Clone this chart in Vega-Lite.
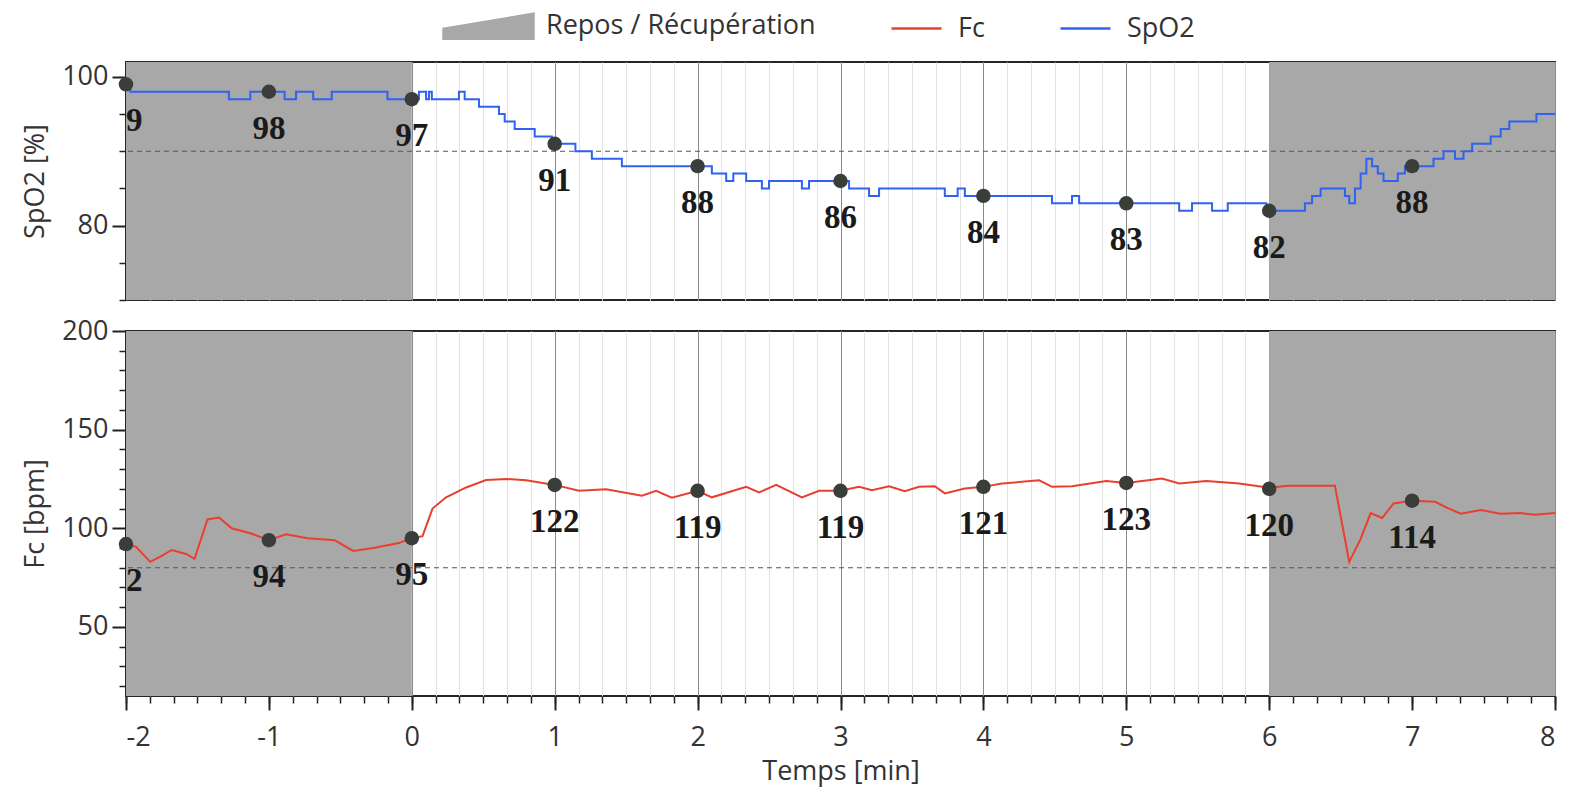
{
  "$schema": "https://vega.github.io/schema/vega-lite/v6.json",
  "background": "white",
  "padding": {"left": 20, "top": 12, "right": 10, "bottom": 5},
  "spacing": 14,
  "datasets": {
    "bands": [{"start": -2, "end": 0}, {"start": 6, "end": 8}],
    "spo2": [
      {"t": -2, "v": 99}, {"t": -1.97, "v": 98}, {"t": -1.28, "v": 97}, {"t": -1.13, "v": 98},
      {"t": -0.89, "v": 97}, {"t": -0.81, "v": 98}, {"t": -0.69, "v": 97}, {"t": -0.56, "v": 98},
      {"t": -0.17, "v": 97}, {"t": 0.05, "v": 98}, {"t": 0.1, "v": 97}, {"t": 0.12, "v": 98},
      {"t": 0.14, "v": 97}, {"t": 0.33, "v": 98}, {"t": 0.37, "v": 97}, {"t": 0.47, "v": 96},
      {"t": 0.61, "v": 95}, {"t": 0.65, "v": 94}, {"t": 0.72, "v": 93}, {"t": 0.86, "v": 92},
      {"t": 0.98, "v": 91}, {"t": 1.145, "v": 90}, {"t": 1.26, "v": 89}, {"t": 1.47, "v": 88},
      {"t": 2.1, "v": 87}, {"t": 2.2, "v": 86}, {"t": 2.25, "v": 87}, {"t": 2.34, "v": 86},
      {"t": 2.45, "v": 85}, {"t": 2.5, "v": 86}, {"t": 2.73, "v": 85}, {"t": 2.78, "v": 86},
      {"t": 3.06, "v": 85}, {"t": 3.2, "v": 84}, {"t": 3.27, "v": 85}, {"t": 3.73, "v": 84},
      {"t": 3.82, "v": 85}, {"t": 3.87, "v": 84}, {"t": 4.48, "v": 83}, {"t": 4.62, "v": 84},
      {"t": 4.67, "v": 83}, {"t": 5.37, "v": 82}, {"t": 5.46, "v": 83}, {"t": 5.6, "v": 82},
      {"t": 5.71, "v": 83}, {"t": 5.98, "v": 82}, {"t": 6.25, "v": 83}, {"t": 6.3, "v": 84},
      {"t": 6.36, "v": 85}, {"t": 6.53, "v": 84}, {"t": 6.56, "v": 83}, {"t": 6.6, "v": 85},
      {"t": 6.64, "v": 87}, {"t": 6.68, "v": 89}, {"t": 6.72, "v": 88}, {"t": 6.76, "v": 87},
      {"t": 6.8, "v": 86}, {"t": 6.9, "v": 87}, {"t": 6.95, "v": 88}, {"t": 7.15, "v": 89},
      {"t": 7.22, "v": 90}, {"t": 7.3, "v": 89}, {"t": 7.36, "v": 90}, {"t": 7.42, "v": 91},
      {"t": 7.55, "v": 92}, {"t": 7.62, "v": 93}, {"t": 7.68, "v": 94}, {"t": 7.87, "v": 95},
      {"t": 8, "v": 95}
    ],
    "fc": [
      {"t": -2, "v": 92}, {"t": -1.93, "v": 90.6}, {"t": -1.83, "v": 83}, {"t": -1.75, "v": 86},
      {"t": -1.68, "v": 89}, {"t": -1.58, "v": 87}, {"t": -1.52, "v": 84.5}, {"t": -1.43, "v": 104.5},
      {"t": -1.35, "v": 105.5}, {"t": -1.26, "v": 100}, {"t": -1.13, "v": 97.5}, {"t": -1, "v": 94},
      {"t": -0.88, "v": 97}, {"t": -0.73, "v": 95}, {"t": -0.54, "v": 94}, {"t": -0.41, "v": 88.5},
      {"t": -0.27, "v": 90}, {"t": -0.09, "v": 92.5}, {"t": 0, "v": 95}, {"t": 0.075, "v": 96},
      {"t": 0.145, "v": 110}, {"t": 0.24, "v": 115.7}, {"t": 0.38, "v": 120.7}, {"t": 0.52, "v": 124.5},
      {"t": 0.66, "v": 125}, {"t": 0.8, "v": 124.3}, {"t": 1, "v": 122}, {"t": 1.17, "v": 119},
      {"t": 1.36, "v": 119.8}, {"t": 1.61, "v": 116.5}, {"t": 1.71, "v": 119}, {"t": 1.82, "v": 115.5},
      {"t": 2, "v": 119}, {"t": 2.1, "v": 115.7}, {"t": 2.34, "v": 121}, {"t": 2.43, "v": 118.2},
      {"t": 2.55, "v": 122}, {"t": 2.73, "v": 115.7}, {"t": 2.85, "v": 119}, {"t": 3, "v": 119},
      {"t": 3.13, "v": 121}, {"t": 3.22, "v": 119.3}, {"t": 3.34, "v": 121.3}, {"t": 3.45, "v": 118.8},
      {"t": 3.55, "v": 121}, {"t": 3.66, "v": 121.3}, {"t": 3.73, "v": 117.7}, {"t": 3.87, "v": 120.2},
      {"t": 4, "v": 121}, {"t": 4.13, "v": 122.7}, {"t": 4.39, "v": 124.3}, {"t": 4.48, "v": 121},
      {"t": 4.62, "v": 121.3}, {"t": 4.86, "v": 124}, {"t": 5, "v": 123}, {"t": 5.25, "v": 125.2},
      {"t": 5.37, "v": 122.7}, {"t": 5.56, "v": 124}, {"t": 5.79, "v": 122.7}, {"t": 6, "v": 120.5},
      {"t": 6.13, "v": 121.6}, {"t": 6.46, "v": 121.6}, {"t": 6.56, "v": 83}, {"t": 6.64, "v": 94.6},
      {"t": 6.71, "v": 107.7}, {"t": 6.79, "v": 105.2}, {"t": 6.87, "v": 112.6}, {"t": 7, "v": 114},
      {"t": 7.16, "v": 113.4}, {"t": 7.25, "v": 110.2}, {"t": 7.34, "v": 107.4}, {"t": 7.48, "v": 109.3},
      {"t": 7.62, "v": 107.4}, {"t": 7.76, "v": 107.7}, {"t": 7.86, "v": 106.9}, {"t": 8, "v": 107.7}
    ],
    "spo2_pts": [
      {"t": -2, "v": 99}, {"t": -1, "v": 98}, {"t": 0, "v": 97}, {"t": 1, "v": 91}, {"t": 2, "v": 88},
      {"t": 3, "v": 86}, {"t": 4, "v": 84}, {"t": 5, "v": 83}, {"t": 6, "v": 82}, {"t": 7, "v": 88}
    ],
    "fc_pts": [
      {"t": -2, "v": 92}, {"t": -1, "v": 94}, {"t": 0, "v": 95}, {"t": 1, "v": 122}, {"t": 2, "v": 119},
      {"t": 3, "v": 119}, {"t": 4, "v": 121}, {"t": 5, "v": 123}, {"t": 6, "v": 120}, {"t": 7, "v": 114}
    ]
  },
  "vconcat": [
    {
      "width": 1429,
      "height": 238,
      "layer": [
        {
          "data": {"name": "bands"},
          "mark": {"type": "rect"},
          "encoding": {
            "x": {"field": "start", "type": "quantitative", "scale": {"domain": [-2, 8], "nice": false, "zero": false},
              "axis": {"orient": "bottom", "values": [-2, -1.8333, -1.6667, -1.5, -1.3333, -1.1667, -1, -0.8333, -0.6667, -0.5, -0.3333, -0.1667, 0, 0.1667, 0.3333, 0.5, 0.6667, 0.8333, 1, 1.1667, 1.3333, 1.5, 1.6667, 1.8333, 2, 2.1667, 2.3333, 2.5, 2.6667, 2.8333, 3, 3.1667, 3.3333, 3.5, 3.6667, 3.8333, 4, 4.1667, 4.3333, 4.5, 4.6667, 4.8333, 5, 5.1667, 5.3333, 5.5, 5.6667, 5.8333, 6, 6.1667, 6.3333, 6.5, 6.6667, 6.8333, 7, 7.1667, 7.3333, 7.5, 7.6667, 7.8333, 8],
                "grid": true, "gridColor": "#e2e2e2", "gridWidth": 1, "ticks": false, "labels": false, "domain": false, "title": null}},
            "x2": {"field": "end"},
            "y": {"datum": 70, "type": "quantitative", "scale": {"domain": [70, 102], "nice": false, "zero": false},
              "axis": {"orient": "left", "values": [70, 75, 85, 90, 95], "grid": false, "ticks": true, "tickSize": 7, "tickWidth": 1.5, "tickColor": "#222", "labels": false, "domain": false, "title": null}},
            "y2": {"datum": 102},
            "color": {"datum": "Repos / Récupération", "type": "nominal",
              "scale": {"domain": ["Repos / Récupération", "Fc", "SpO2"], "range": ["#a8a8a8", "#e8402f", "#2f62f2"]},
              "legend": {
                "title": null, "orient": "none", "legendX": 316, "legendY": -50, "direction": "horizontal",
                "symbolSize": 625, "labelFontSize": 27, "labelColor": "#333", "labelFont": "Open Sans", "labelLimit": 0,
                "labelOffset": 76, "columnPadding": 70,
                "encode": {
                  "symbols": {"update": {
                    "shape": {"signal": "datum.value === 'Repos / Récupération' ? 'M-1,1L-1,0.2L6.2,-1L6.2,1Z' : 'M-1,0L3,0'"},
                    "fill": {"signal": "datum.value === 'Repos / Récupération' ? '#a8a8a8' : 'transparent'"},
                    "stroke": {"signal": "datum.value === 'Fc' ? '#e8402f' : (datum.value === 'SpO2' ? '#2f62f2' : 'transparent')"},
                    "strokeWidth": {"value": 2.5},
                    "opacity": {"value": 1}
                  }},
                  "labels": {"update": {
                    "dx": {"signal": "datum.value === 'Repos / Récupération' ? 0 : -36"}
                  }}
                }
              }}
          }
        },
        {
          "data": {"values": [{"seuil": 90}]},
          "mark": {"type": "rule", "strokeDash": [5, 4], "color": "#555555", "strokeWidth": 1.2},
          "encoding": {"y": {"field": "seuil", "type": "quantitative", "axis": null}}
        },
        {
          "data": {"name": "spo2"},
          "mark": {"type": "line", "interpolate": "step-after", "strokeWidth": 2},
          "encoding": {
            "x": {"field": "t", "type": "quantitative", "axis": null},
            "y": {"field": "v", "type": "quantitative", "axis": null},
            "color": {"datum": "SpO2", "type": "nominal"}
          }
        },
        {
          "data": {"name": "spo2_pts"},
          "mark": {"type": "circle", "size": 210, "color": "#3a3d3a", "opacity": 1},
          "encoding": {
            "x": {"field": "t", "type": "quantitative",
              "axis": {"orient": "bottom", "values": [-2, -1, 0, 1, 2, 3, 4, 5, 6, 7, 8], "grid": true, "gridColor": "#8a8a8a", "gridWidth": 1, "ticks": false, "labels": false, "domain": false, "title": null}},
            "y": {"field": "v", "type": "quantitative",
              "axis": {"orient": "left", "values": [80, 100], "grid": false, "ticks": true, "tickSize": 14, "tickWidth": 2, "tickColor": "#222", "labels": true, "labelFontSize": 27, "labelColor": "#333", "labelPadding": 4, "domain": false, "title": "SpO2 [%]", "titleFontSize": 27, "titleFontWeight": "normal", "titleColor": "#333", "titlePadding": 12}}
          }
        },
        {
          "data": {"name": "spo2_pts"},
          "mark": {"type": "text", "font": "Liberation Serif", "fontWeight": "bold", "fontSize": 33, "dy": 37, "color": "#1a1a1a", "clip": true},
          "encoding": {
            "x": {"field": "t", "type": "quantitative", "axis": null},
            "y": {"field": "v", "type": "quantitative", "axis": null},
            "text": {"field": "v", "type": "quantitative"}
          }
        }
      ],
      "resolve": {"axis": {"x": "independent", "y": "independent"}}
    },
    {
      "width": 1429,
      "height": 365,
      "layer": [
        {
          "data": {"name": "bands"},
          "mark": {"type": "rect"},
          "encoding": {
            "x": {"field": "start", "type": "quantitative", "scale": {"domain": [-2, 8], "nice": false, "zero": false},
              "axis": {"orient": "bottom", "values": [-2, -1.8333, -1.6667, -1.5, -1.3333, -1.1667, -1, -0.8333, -0.6667, -0.5, -0.3333, -0.1667, 0, 0.1667, 0.3333, 0.5, 0.6667, 0.8333, 1, 1.1667, 1.3333, 1.5, 1.6667, 1.8333, 2, 2.1667, 2.3333, 2.5, 2.6667, 2.8333, 3, 3.1667, 3.3333, 3.5, 3.6667, 3.8333, 4, 4.1667, 4.3333, 4.5, 4.6667, 4.8333, 5, 5.1667, 5.3333, 5.5, 5.6667, 5.8333, 6, 6.1667, 6.3333, 6.5, 6.6667, 6.8333, 7, 7.1667, 7.3333, 7.5, 7.6667, 7.8333, 8],
                "grid": true, "gridColor": "#e2e2e2", "gridWidth": 1, "ticks": true, "tickSize": 7, "tickWidth": 1.5, "tickColor": "#222", "labels": false, "domain": false, "title": null}},
            "x2": {"field": "end"},
            "y": {"datum": 15, "type": "quantitative", "scale": {"domain": [15, 200], "nice": false, "zero": false},
              "axis": {"orient": "left", "values": [20, 30, 40, 60, 70, 80, 90, 110, 120, 130, 140, 160, 170, 180, 190], "grid": false, "ticks": true, "tickSize": 7, "tickWidth": 1.5, "tickColor": "#222", "labels": false, "domain": false, "title": null}},
            "y2": {"datum": 200},
            "color": {"datum": "Repos / Récupération", "type": "nominal"}
          }
        },
        {
          "data": {"values": [{"seuil": 80}]},
          "mark": {"type": "rule", "strokeDash": [5, 4], "color": "#555555", "strokeWidth": 1.2},
          "encoding": {"y": {"field": "seuil", "type": "quantitative", "axis": null}}
        },
        {
          "data": {"name": "fc"},
          "mark": {"type": "line", "strokeWidth": 2},
          "encoding": {
            "x": {"field": "t", "type": "quantitative", "axis": null},
            "y": {"field": "v", "type": "quantitative", "axis": null},
            "color": {"datum": "Fc", "type": "nominal"}
          }
        },
        {
          "data": {"name": "fc_pts"},
          "mark": {"type": "circle", "size": 210, "color": "#3a3d3a", "opacity": 1},
          "encoding": {
            "x": {"field": "t", "type": "quantitative",
              "axis": {"orient": "bottom", "values": [-2, -1, 0, 1, 2, 3, 4, 5, 6, 7, 8], "grid": true, "gridColor": "#8a8a8a", "gridWidth": 1, "ticks": true, "tickSize": 14, "tickWidth": 2, "tickColor": "#222", "labels": true, "labelExpr": "'' + datum.value", "labelFontSize": 27, "labelColor": "#333", "labelPadding": 14, "domain": false, "title": "Temps [min]", "titleFontSize": 27, "titleFontWeight": "normal", "titleColor": "#333", "titlePadding": 8}},
            "y": {"field": "v", "type": "quantitative",
              "axis": {"orient": "left", "values": [50, 100, 150, 200], "grid": false, "ticks": true, "tickSize": 14, "tickWidth": 2, "tickColor": "#222", "labels": true, "labelFontSize": 27, "labelColor": "#333", "labelPadding": 4, "domain": false, "title": "Fc [bpm]", "titleFontSize": 27, "titleFontWeight": "normal", "titleColor": "#333", "titlePadding": 12}}
          }
        },
        {
          "data": {"name": "fc_pts"},
          "mark": {"type": "text", "font": "Liberation Serif", "fontWeight": "bold", "fontSize": 33, "dy": 37, "color": "#1a1a1a", "clip": true},
          "encoding": {
            "x": {"field": "t", "type": "quantitative", "axis": null},
            "y": {"field": "v", "type": "quantitative", "axis": null},
            "text": {"field": "v", "type": "quantitative"}
          }
        }
      ],
      "resolve": {"axis": {"x": "independent", "y": "independent"}}
    }
  ],
  "resolve": {"scale": {"color": "shared"}, "legend": {"color": "shared"}},
  "config": {
    "font": "Open Sans",
    "view": {"stroke": "#262626", "strokeWidth": 2},
    "axis": {"labelFont": "Open Sans", "titleFont": "Open Sans"}
  }
}
